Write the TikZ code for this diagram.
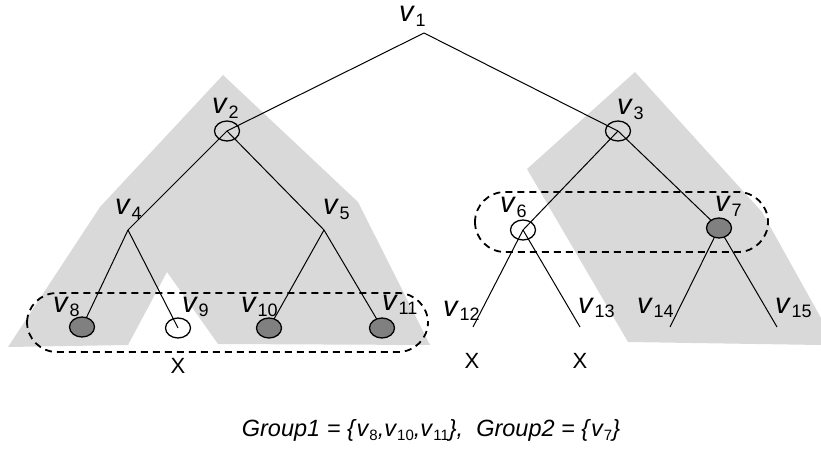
\documentclass[tikz,border=0pt]{standalone}
\usepackage{fontspec}
\setmainfont{Liberation Sans}
\usetikzlibrary{positioning,shapes.geometric}
\definecolor{ShadeGray}{HTML}{D9D9D9}
\definecolor{LeafGray}{HTML}{808080}
\newcommand{\vsub}[1]{\textit{v}\kern0.5pt\raisebox{-0.15em}{\fontsize{18}{18}\selectfont\upshape #1}}
\newcommand{\gsub}[1]{\textit{v}\raisebox{-0.2em}{\fontsize{15}{15}\selectfont\upshape #1}}

\begin{document}
\begin{tikzpicture}[x=1pt,y=-1pt,
    treenode/.style={ellipse,draw,line width=1.3pt,minimum width=25pt,minimum height=20pt,inner sep=0pt},
    leafnode/.style={treenode,fill=LeafGray},
    vlabel/.style={anchor=base west,inner sep=0pt,font=\fontsize{29}{29}\selectfont},
    xmark/.style={inner sep=0pt,font=\fontsize{22}{22}\selectfont},
    groupbox/.style={draw,line width=1.8pt,dash pattern=on 7pt off 5pt,rounded corners=30pt}]
        \useasboundingbox (0,0) rectangle (821,454);
        % shaded subtrees
        \fill[ShadeGray] (223,75) -- (100,207) -- (8,347) -- (128,345) -- (167,272)
          -- (218,344) -- (430,345) -- (358,202) -- cycle;
        \fill[ShadeGray] (635,72) -- (527,169) -- (628,342) -- (821,345) -- (821,318)
          -- (762,212) -- cycle;
        % tree points
        \coordinate (v1) at (424,33);
        \coordinate (v4) at (128,230);
        \coordinate (v5) at (324,230);
        \coordinate (v12) at (473,327);
        \coordinate (v13) at (580,327);
        \coordinate (v14) at (670,327);
        \coordinate (v15) at (777,327);
        \coordinate (v2) at (227,131);
        \coordinate (v3) at (618,131);
        \coordinate (v6) at (523,230);
        \coordinate (v7) at (719,228);
        \coordinate (v8) at (82,327);
        \coordinate (v9) at (178,328);
        \coordinate (v10) at (269,328);
        \coordinate (v11) at (382,328);
        \foreach \a/\b in {v1/v2,v1/v3,v2/v4,v2/v5,v3/v6,v3/v7,v4/v8,v4/v9,v5/v10,v5/v11,v6/v12,v6/v13,v7/v14,v7/v15} {
          \draw[line width=1pt] (\a) -- (\b);
        }
        % groups
        \draw[groupbox] (27,293) rectangle (428,352);
        \draw[groupbox] (475,192) rectangle (768,252);
        \foreach \n in {v2,v3,v6,v9} {
          \node[treenode] (n\n) at (\n) {};
        }
        \foreach \n in {v7,v8,v10,v11} {
          \node[leafnode] (n\n) at (\n) {};
        }
        % labels
        \foreach \k/\x/\y in {1/399/22,2/212/114,3/617/115,4/115/215,5/323/215,6/500/213,7/715/212,8/53/312,9/182/312,10/241/312,11/382/310,12/443/316,13/578/313,14/637/313,15/775/313} {
          \node[vlabel] (l\k) at (\x,\y) {\vsub{\k}};
        }
        \node[xmark] (x9) at (178,366) {X};
        \node[xmark] (x12) at (472,361) {X};
        \node[xmark] (x13) at (580,361) {X};
        \node[font=\fontsize{23.5}{23.5}\selectfont] (groups) at (431,430)
          {\textit{Group1 = \{}\gsub{8}\textit{,}\gsub{10}\textit{,}\gsub{11}\textit{\},~~Group2 = \{}\gsub{7}\textit{\}}};
\end{tikzpicture}
\end{document}
